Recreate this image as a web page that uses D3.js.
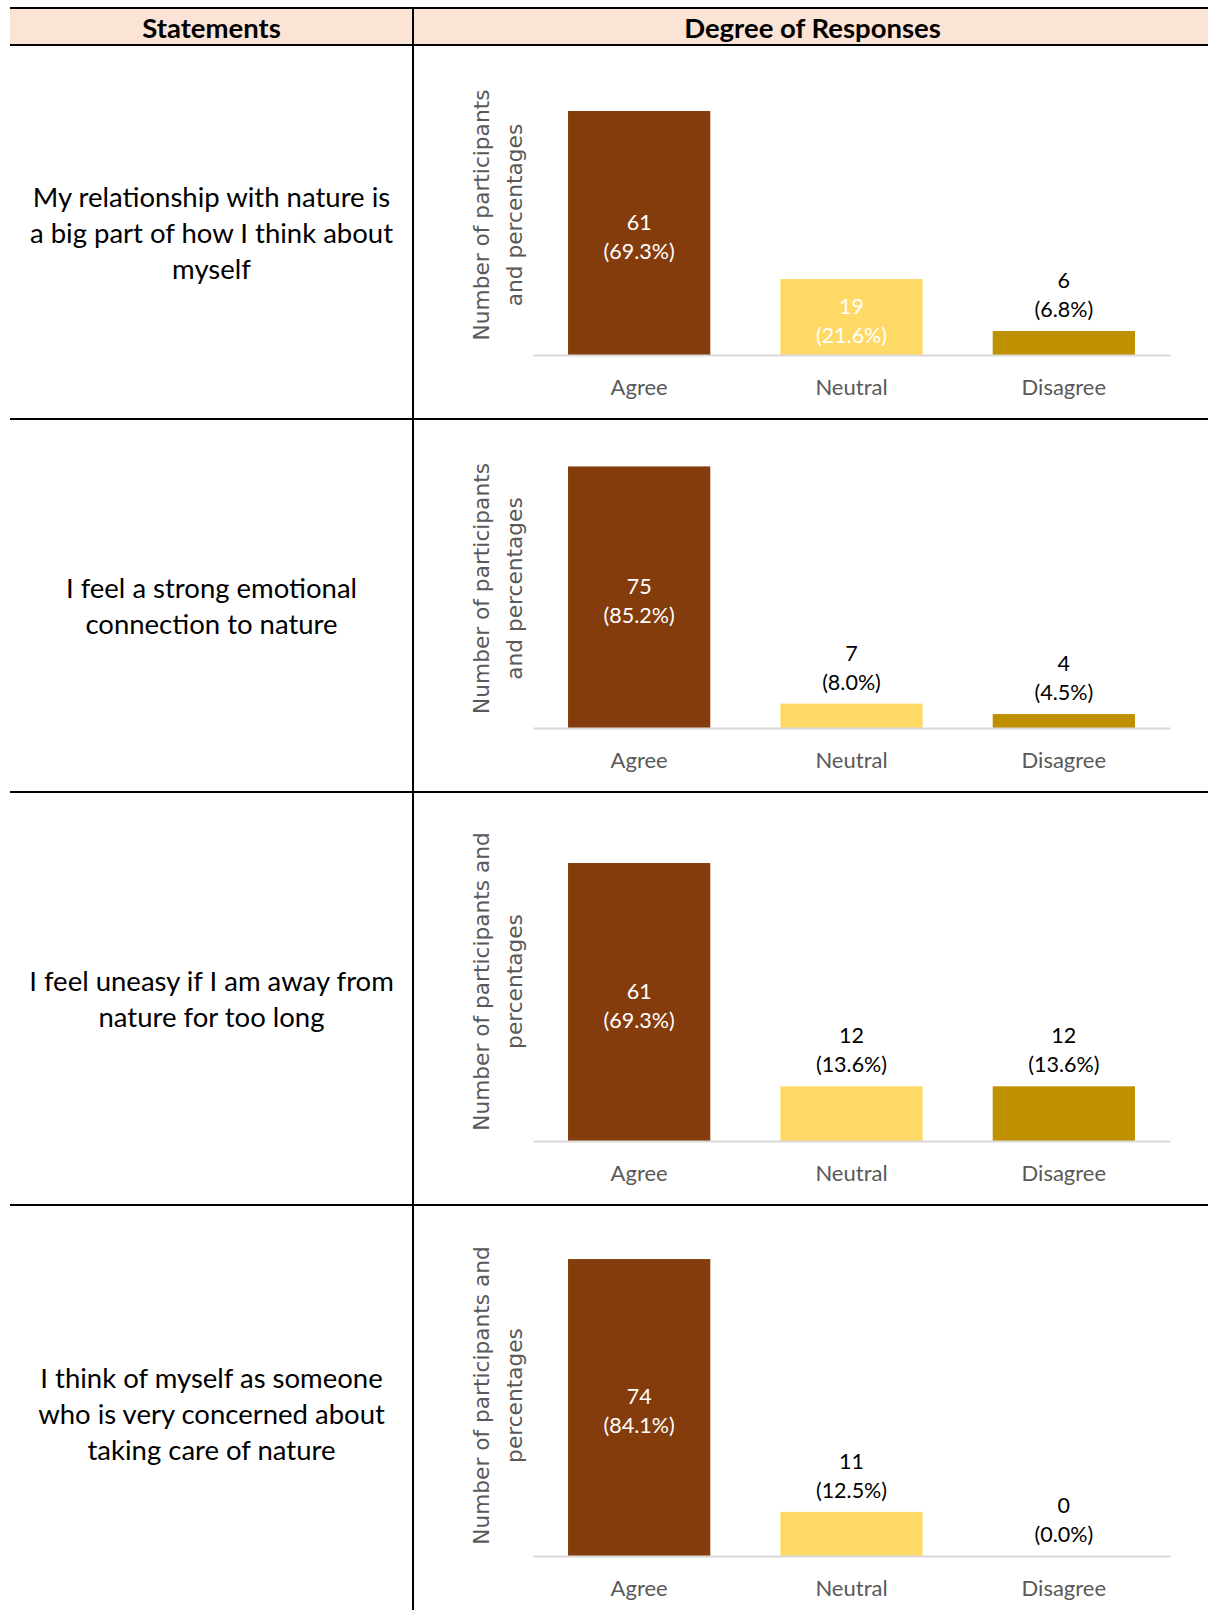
<!DOCTYPE html>
<html>
<head>
<meta charset="utf-8">
<script src="https://cdn.jsdelivr.net/npm/d3@7"></script>
<style>
  html, body { margin: 0; padding: 0; background: #ffffff; }
  svg { display: block; }
</style>
</head>
<body>
<div id="chart"></div>
<script>
// Survey statements (left column), one entry per table row, split into lines
const statements = [
  ["My relationship with nature is", "a big part of how I think about", "myself"],
  ["I feel a strong emotional", "connection to nature"],
  ["I feel uneasy if I am away from", "nature for too long"],
  ["I think of myself as someone", "who is very concerned about", "taking care of nature"]
];

// Response categories shared by every chart
const categories = ["Agree", "Neutral", "Disagree"];

// Number of participants per category, one array per statement
const counts = [
  [61, 19, 6],
  [75, 7, 4],
  [61, 12, 12],
  [74, 11, 0]
];

// Percentage of participants per category
const percents = [
  [69.3, 21.6, 6.8],
  [85.2, 8.0, 4.5],
  [69.3, 13.6, 13.6],
  [84.1, 12.5, 0.0]
];

// Value-axis maximum used by each chart
const axisMax = [70, 80, 70, 80];

// Rotated value-axis titles, split into lines
const axisTitles = [
  ["Number of participants", "and percentages"],
  ["Number of participants", "and percentages"],
  ["Number of participants and", "percentages"],
  ["Number of participants and", "percentages"]
];

const headers = ["Statements", "Degree of Responses"];

// ---- layout ----
const W = 1208, H = 1610;
const tableLeft = 10, divX = 413;
const headTop = 8, headBottom = 45;
const rowEdges = [45, 419, 792, 1205, 1620];
const colors = { Agree: "#843C0C", Neutral: "#FFD966", Disagree: "#BF9000" };
const textFont = "Lato, 'Open Sans', sans-serif";
const titleFont = "'DejaVu Sans', Verdana, sans-serif";

const svg = d3.select("#chart").append("svg")
  .attr("width", W).attr("height", H);

// Header band
svg.append("rect")
  .attr("x", tableLeft).attr("y", headTop)
  .attr("width", W - tableLeft).attr("height", headBottom - headTop)
  .attr("fill", "#FBE4D5");

svg.selectAll("text.header")
  .data(headers)
  .join("text")
  .attr("class", "header")
  .attr("x", (d, i) => i === 0 ? (tableLeft + divX) / 2 : (divX + W) / 2 + 2)
  .attr("y", (headTop + headBottom) / 2 + 1)
  .attr("text-anchor", "middle")
  .attr("dominant-baseline", "central")
  .attr("font-family", textFont)
  .attr("font-weight", 700)
  .attr("font-size", 27.5)
  .attr("fill", "#000")
  .text(d => d);

// One table row per statement
statements.forEach((lines, r) => {
  const top = rowEdges[r], bottom = rowEdges[r + 1];
  const g = svg.append("g");

  // Statement text, centred in the left cell
  const lh = 36;
  const cy = r === 3 ? 1413 : (top + bottom) / 2;
  g.selectAll("text.stmt")
    .data(lines)
    .join("text")
    .attr("class", "stmt")
    .attr("x", (tableLeft + divX) / 2)
    .attr("y", (d, i) => cy + (i - (lines.length - 1) / 2) * lh)
    .attr("text-anchor", "middle")
    .attr("dominant-baseline", "central")
    .attr("font-family", textFont)
    .attr("font-size", 27.5)
    .attr("fill", "#000")
    .text(d => d);

  // Chart area in the right cell
  const plotTop = top + 30;
  const baseline = bottom - 64;
  const x = d3.scaleBand()
    .domain(categories)
    .range([533, 1170])
    .paddingInner(0.33)
    .paddingOuter(0.165);
  const y = d3.scaleLinear()
    .domain([0, axisMax[r]])
    .range([baseline, plotTop]);

  const rows = categories.map((c, i) => ({ cat: c, n: counts[r][i], p: percents[r][i] }));

  g.selectAll("rect.bar")
    .data(rows)
    .join("rect")
    .attr("class", "bar")
    .attr("x", d => x(d.cat))
    .attr("y", d => y(d.n))
    .attr("width", x.bandwidth())
    .attr("height", d => y(0) - y(d.n))
    .attr("fill", d => colors[d.cat]);

  // Category axis
  const axis = g.append("g")
    .attr("transform", `translate(0,${baseline})`)
    .call(d3.axisBottom(x).tickSize(0).tickPadding(24));
  axis.select(".domain").attr("stroke", "#D9D9D9").attr("stroke-width", 2);
  axis.selectAll(".tick text")
    .attr("font-family", textFont)
    .attr("font-size", 22)
    .attr("fill", "#595959");

  // Data labels: inside the bar when it is tall enough, above it otherwise
  const lblGap = 29;
  rows.forEach(d => {
    const h = y(0) - y(d.n);
    const inside = h > 60;
    const cx = x(d.cat) + x.bandwidth() / 2;
    let c1, c2;
    if (inside) {
      const mid = (y(d.n) + y(0)) / 2 + 3;
      c1 = mid - lblGap / 2;
      c2 = mid + lblGap / 2;
    } else {
      c2 = y(d.n) - 22;
      c1 = c2 - lblGap;
    }
    const fill = inside ? "#FFFFFF" : "#000000";
    [[String(d.n), c1], [`(${d.p.toFixed(1)}%)`, c2]].forEach(([t, yy]) => {
      g.append("text")
        .attr("x", cx)
        .attr("y", yy)
        .attr("text-anchor", "middle")
        .attr("dominant-baseline", "central")
        .attr("font-family", textFont)
        .attr("font-size", 21.5)
        .attr("fill", fill)
        .text(t);
    });
  });

  // Rotated value-axis title
  const tcY = (plotTop + baseline) / 2;
  axisTitles[r].forEach((t, i) => {
    const tx = 481 + i * 33;
    g.append("text")
      .attr("transform", `translate(${tx},${tcY}) rotate(-90)`)
      .attr("text-anchor", "middle")
      .attr("dominant-baseline", "central")
      .attr("font-family", titleFont)
      .attr("font-size", 21.7)
      .attr("fill", "#595959")
      .text(t);
  });
});

// Table rules
const rule = (x1, y1, x2, y2) => svg.append("line")
  .attr("x1", x1).attr("y1", y1).attr("x2", x2).attr("y2", y2)
  .attr("stroke", "#000").attr("stroke-width", 2);

rule(tableLeft, headTop, W, headTop);
rule(tableLeft, headBottom, W, headBottom);
rowEdges.slice(1, 4).forEach(yy => rule(tableLeft, yy, W, yy));
rule(divX, headTop, divX, H);
</script>
</body>
</html>
